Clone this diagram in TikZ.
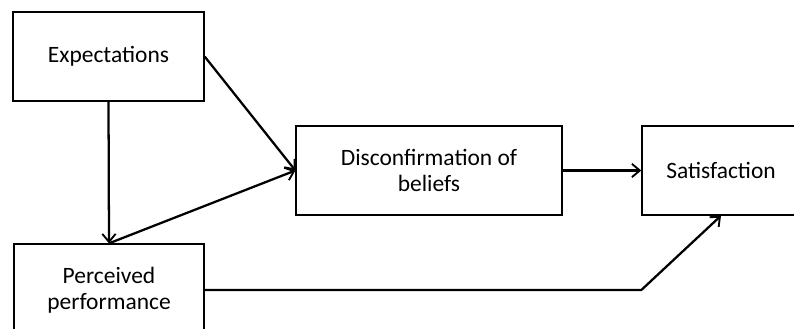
\documentclass[tikz,border=0pt]{standalone}
\usepackage{fontspec}
\setmainfont{Carlito}
\usetikzlibrary{arrows.meta,calc,positioning}

\begin{document}
\begin{tikzpicture}[x=0.75pt, y=-0.75pt,
  box/.style={draw, line width=1pt, inner sep=0pt, align=center, font=\fontsize{17.6}{19.5}\selectfont},
  arr/.style={line width=1.7pt, -{Straight Barb[length=6pt,width=10pt,line width=1.4pt]}}]
\useasboundingbox (0,0) rectangle (794,329);
\clip (0,0) rectangle (794,329);
\node[box, minimum width=191*0.75pt, minimum height=89*0.75pt] (expect) at (108.5,56.5) {Expectations};
\node[box, minimum width=190*0.75pt, minimum height=92*0.75pt] (perceived) at (109,290) {Perceived\\performance};
\node[box, minimum width=266*0.75pt, minimum height=89*0.75pt] (disconf) at (429,170.5) {Disconfirmation of\\beliefs};
\node[box, minimum width=158*0.75pt, minimum height=89*0.75pt] (satisf) at (721,170.5) {Satisfaction};
\draw[arr] (expect.east) -- (disconf.west);
\draw[arr] (expect.south) -- (perceived.north);
\draw[arr] (perceived.north) -- (disconf.west);
\draw[arr] (disconf.east) -- (satisf.west);
\draw[arr] (perceived.east) -- (perceived.east -| satisf.west) -- (satisf.south);
\end{tikzpicture}
\end{document}
